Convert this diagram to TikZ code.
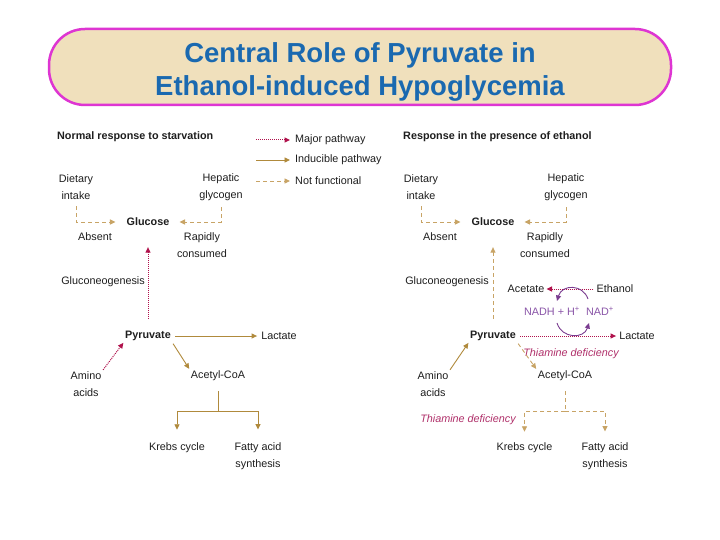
\documentclass[tikz,border=0pt]{standalone}
\usepackage{fontspec}
\setmainfont{Liberation Sans}
\usetikzlibrary{arrows.meta}
\definecolor{txtc}{HTML}{1E1E1E}
\definecolor{titc}{HTML}{1A69B0}
\definecolor{boxb}{HTML}{DE35D2}
\definecolor{boxf}{HTML}{F0E0BC}
\definecolor{crim}{HTML}{B0124C}
\definecolor{oliv}{HTML}{B08A3C}
\definecolor{olivl}{HTML}{C8A466}
\definecolor{purp}{HTML}{7A3C90}
\definecolor{purpt}{HTML}{8A55A8}
\definecolor{thia}{HTML}{B0306A}
\tikzset{
  txt/.style={font=\fontsize{10.8}{16.5}\selectfont, text=txtc, inner sep=1pt, align=center},
  bld/.style={txt, font=\fontsize{10.8}{16.5}\selectfont\bfseries},
  thiatxt/.style={txt, text=thia, font=\fontsize{10.8}{16.5}\selectfont\itshape},
  nadtxt/.style={txt, text=purpt},
  tipx/.style={-{Triangle[length=5.5pt,width=5pt]}},
  majarr/.style={draw=crim, line width=1pt, densely dotted, tipx, color=crim},
  indarr/.style={draw=oliv, line width=0.9pt, tipx, color=oliv},
  indline/.style={draw=oliv, line width=0.9pt},
  nfarr/.style={draw=olivl, line width=0.9pt, dash pattern=on 4pt off 3pt, tipx, color=olivl},
  nfline/.style={draw=olivl, line width=0.9pt, dash pattern=on 4pt off 3pt},
  cycarr/.style={draw=purp, line width=0.9pt, tipx, color=purp},
}
\begin{document}
\begin{tikzpicture}[x=1pt,y=-1pt]
\useasboundingbox (0,0) rectangle (720,540);
\fill[white] (0,0) rectangle (720,540);
% title
\draw[boxb, line width=2.5pt, fill=boxf, rounded corners=36pt] (49,29) rectangle (671,105);
\node[text=titc, font=\fontsize{27.5}{33}\selectfont\bfseries, align=center] (title) at (360,72)
  {Central Role of Pyruvate in\\Ethanol-induced Hypoglycemia};

% ===== left panel =====
\node[bld, anchor=west] (h1) at (56,137) {Normal response to starvation};
% legend
\coordinate (l1a) at (256,140); \coordinate (l1b) at (290,140);
\coordinate (l2a) at (256,160); \coordinate (l2b) at (290,160);
\coordinate (l3a) at (256,181); \coordinate (l3b) at (290,181);
\draw[majarr] (l1a) -- (l1b);
\draw[indarr] (l2a) -- (l2b);
\draw[nfarr] (l3a) -- (l3b);
\node[txt, anchor=west] (lt1) at (294,140) {Major pathway};
\node[txt, anchor=west] (lt2) at (294,160) {Inducible pathway};
\node[txt, anchor=west] (lt3) at (294,181) {Not functional};

\node[txt] (di1) at (76,187) {Dietary\\intake};
\node[txt] (hg1) at (221,187) {Hepatic\\glycogen};
\node[bld] (gl1) at (148,222) {Glucose};
\node[txt] (ab1) at (95,237) {Absent};
\node[txt] (rc1) at (202,245) {Rapidly\\consumed};
\draw[nfarr, shorten <=6pt, shorten >=10pt] (di1.south) |- (gl1.west);
\draw[nfarr, shorten <=6pt, shorten >=9pt] (hg1.south) |- (gl1.east);

\node[txt, anchor=east] (gn1) at (146,282) {Gluconeogenesis};
\node[bld] (py1) at (148,336) {Pyruvate};
\node[txt] (la1) at (279,336) {Lactate};
\draw[majarr, shorten <=11pt, shorten >=20pt] (py1.north) -- (gl1.south);
\draw[indarr, shorten <=3pt, shorten >=3pt] (py1) -- (la1);

\node[txt] (am1) at (86,384) {Amino\\acids};
\node[txt] (ac1) at (218,376) {Acetyl-CoA};
\draw[majarr, shorten <=1pt, shorten >=1pt] (am1.north east) -- (py1.south west);
\draw[indarr, shorten <=2pt, shorten >=1pt] (py1.south east) -- (ac1.north west);

\coordinate (j1) at (218,411);
\node[txt] (kr1) at (177,448) {Krebs cycle};
\node[txt] (fa1) at (258,456) {Fatty acid\\synthesis};
\draw[indline, shorten <=9pt] (ac1.south) -- (j1);
\draw[indarr, shorten >=12pt] (j1) -| (kr1.north);
\draw[indarr, shorten >=12pt] (j1) -| (fa1.north);

% ===== right panel =====
\node[bld, anchor=west] (h2) at (402,137) {Response in the presence of ethanol};
\node[txt] (di2) at (421,187) {Dietary\\intake};
\node[txt] (hg2) at (566,187) {Hepatic\\glycogen};
\node[bld] (gl2) at (493,222) {Glucose};
\node[txt] (ab2) at (440,237) {Absent};
\node[txt] (rc2) at (545,245) {Rapidly\\consumed};
\draw[nfarr, shorten <=6pt, shorten >=10pt] (di2.south) |- (gl2.west);
\draw[nfarr, shorten <=6pt, shorten >=9pt] (hg2.south) |- (gl2.east);

\node[txt, anchor=east] (gn2) at (490,282) {Gluconeogenesis};
\node[bld] (py2) at (493,336) {Pyruvate};
\node[txt] (la2) at (637,336) {Lactate};
\draw[nfarr, shorten <=11pt, shorten >=20pt] (py2.north) -- (gl2.south);
\draw[majarr, shorten <=3pt, shorten >=2pt] (py2) -- (la2);

\node[txt] (at2) at (526,289) {Acetate};
\node[txt] (et2) at (615,289) {Ethanol};
\draw[majarr, shorten <=2pt, shorten >=1pt] (et2) -- (at2);
\node[nadtxt] (nh2) at (552,311.5) {NADH + H\textsuperscript{+}};
\node[nadtxt] (nd2) at (600,311.5) {NAD\textsuperscript{+}};
\coordinate (c1) at (588,299);
\coordinate (c2) at (557,301);
\coordinate (c3) at (557,323);
\coordinate (c4) at (589,323);
\draw[cycarr] (c1) .. controls (583,284) and (562,284) .. (c2);
\draw[cycarr] (c3) .. controls (562,339) and (584,339) .. (c4);

\node[thiatxt] (th1) at (571,353.5) {Thiamine deficiency};

\node[txt] (am2) at (433,384) {Amino\\acids};
\node[txt] (ac2) at (565,376) {Acetyl-CoA};
\draw[indarr, shorten <=1pt, shorten >=1pt] (am2.north east) -- (py2.south west);
\draw[nfarr, shorten <=2pt, shorten >=1pt] (py2.south east) -- (ac2.north west);

\coordinate (j2) at (565,411);
\node[txt] (kr2) at (524.5,448) {Krebs cycle};
\node[txt] (fa2) at (605,456) {Fatty acid\\synthesis};
\draw[nfline, shorten <=9pt] (ac2.south) -- (j2);
\draw[nfarr, shorten >=10pt] (j2) -| (kr2.north);
\draw[nfarr, shorten >=10pt] (j2) -| (fa2.north);
\node[thiatxt] (th2) at (468,420) {Thiamine deficiency};
\end{tikzpicture}
\end{document}
